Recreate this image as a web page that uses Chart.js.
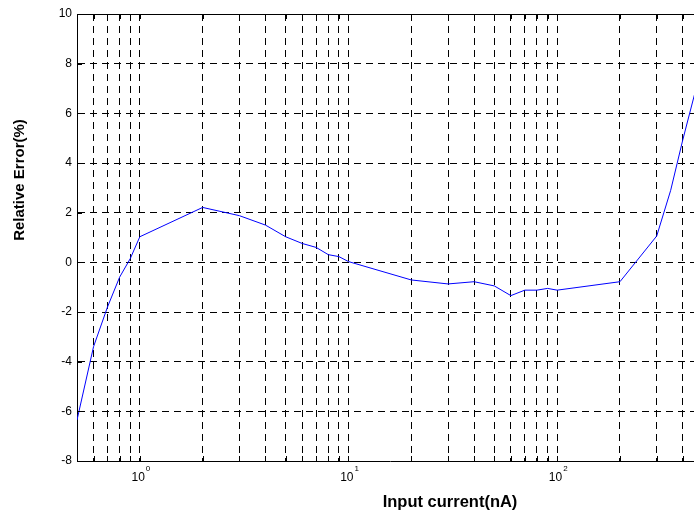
<!DOCTYPE html>
<html>
<head>
<meta charset="utf-8">
<script src="https://cdn.jsdelivr.net/npm/chart.js@4/dist/chart.umd.min.js"></script>
<style>
html,body{margin:0;padding:0;background:#fff;overflow:hidden;width:694px;height:514px;}
canvas{display:block;}
</style>
</head>
<body>
<canvas id="c" width="712" height="514"></canvas>
<script>
// Input current (nA)
const currents = [0.5,0.6,0.7,0.8,0.9,1,2,3,4,5,6,7,8,9,10,20,30,40,50,60,70,80,90,100,200,300,350,400,500];
// Relative error (%)
const relErrors = [-6.35,-3.4,-1.8,-0.6,0.15,1.03,2.21,1.88,1.5,1.03,0.76,0.6,0.31,0.23,0.03,-0.71,-0.87,-0.78,-0.95,-1.34,-1.12,-1.12,-1.05,-1.12,-0.78,1.06,2.9,4.93,8.08];
// Grid positions and labels
const xGrid = [0.5,0.6,0.7,0.8,0.9,1,2,3,4,5,6,7,8,9,10,20,30,40,50,60,70,80,90,100,200,300,400,500];
const xDecades = [1,10,100];
const xExponents = ['0','1','2'];
const yTicks = [-8,-6,-4,-2,0,2,4,6,8,10];
const xTitle = 'Input current(nA)';
const yTitle = 'Relative Error(%)';

const FONT = "'Liberation Sans', Arial, Helvetica, sans-serif";

const decor = {
  id: 'decor',
  afterDraw(chart) {
    const ctx = chart.ctx;
    const a = chart.chartArea;
    const xs = chart.scales.x, ys = chart.scales.y;
    ctx.save();
    ctx.strokeStyle = '#000';
    ctx.lineWidth = 1;
    // top frame line
    ctx.beginPath();
    ctx.moveTo(a.left, Math.round(a.top) + 0.5);
    ctx.lineTo(a.right, Math.round(a.top) + 0.5);
    ctx.stroke();
    // inward ticks
    ctx.beginPath();
    xGrid.forEach(v => {
      const px = Math.round(xs.getPixelForValue(v)) + 0.5;
      ctx.moveTo(px, a.bottom); ctx.lineTo(px, a.bottom - 5);
      ctx.moveTo(px, a.top); ctx.lineTo(px, a.top + 5);
    });
    yTicks.forEach(v => {
      const py = Math.round(ys.getPixelForValue(v)) + 0.5;
      ctx.moveTo(a.left, py); ctx.lineTo(a.left + 5, py);
    });
    ctx.stroke();
    // exponents of decade labels
    ctx.fillStyle = '#000';
    ctx.font = '8px ' + FONT;
    ctx.textAlign = 'left';
    ctx.textBaseline = 'middle';
    xDecades.forEach((v, i) => {
      const px = xs.getPixelForValue(v);
      ctx.fillText(xExponents[i], px + 6, a.bottom + 8);
    });
    // axis titles
    ctx.textAlign = 'center';
    ctx.textBaseline = 'middle';
    ctx.font = 'bold 16.5px ' + FONT;
    ctx.fillText(xTitle, 450, 502);
    ctx.font = 'bold 15px ' + FONT;
    ctx.translate(20, 180);
    ctx.rotate(-Math.PI / 2);
    ctx.fillText(yTitle, 0, 0);
    ctx.restore();
  }
};

const gridColor = (edgeVals) => (c) => (c.tick && edgeVals.includes(c.tick.value)) ? 'rgba(0,0,0,0)' : '#000';

new Chart(document.getElementById('c'), {
  type: 'line',
  data: {
    datasets: [{
      data: currents.map((x, i) => ({x: x, y: relErrors[i]})),
      borderColor: '#0000ff',
      borderWidth: 1,
      pointRadius: 0,
      tension: 0,
      fill: false
    }]
  },
  options: {
    responsive: false,
    animation: false,
    devicePixelRatio: 1,
    layout: { padding: { top: 14, right: 9, left: 0, bottom: 0 } },
    plugins: { legend: { display: false }, tooltip: { enabled: false } },
    scales: {
      x: {
        type: 'logarithmic',
        min: 0.5,
        max: 500,
        afterBuildTicks: (s) => { s.ticks = xGrid.map(v => ({ value: v })); },
        afterFit: (s) => { s.height = 53; },
        ticks: {
          autoSkip: false,
          maxRotation: 0,
          padding: 9,
          color: '#000',
          font: { family: FONT, size: 12 },
          callback: (v) => xDecades.includes(v) ? '10 ' : ''
        },
        grid: { color: gridColor([0.5, 500]), lineWidth: 1, drawTicks: false },
        border: { display: true, color: '#000', width: 1, dash: [7, 5] }
      },
      y: {
        min: -8,
        max: 10,
        afterBuildTicks: (s) => { s.ticks = yTicks.map(v => ({ value: v })); },
        afterFit: (s) => { s.width = 77; },
        ticks: {
          padding: 5,
          color: '#000',
          font: { family: FONT, size: 12 },
          callback: (v) => String(v)
        },
        grid: { color: gridColor([-8, 10]), lineWidth: 1, drawTicks: false },
        border: { display: true, color: '#000', width: 1, dash: [7, 5] }
      }
    }
  },
  plugins: [decor]
});
</script>
</body>
</html>
